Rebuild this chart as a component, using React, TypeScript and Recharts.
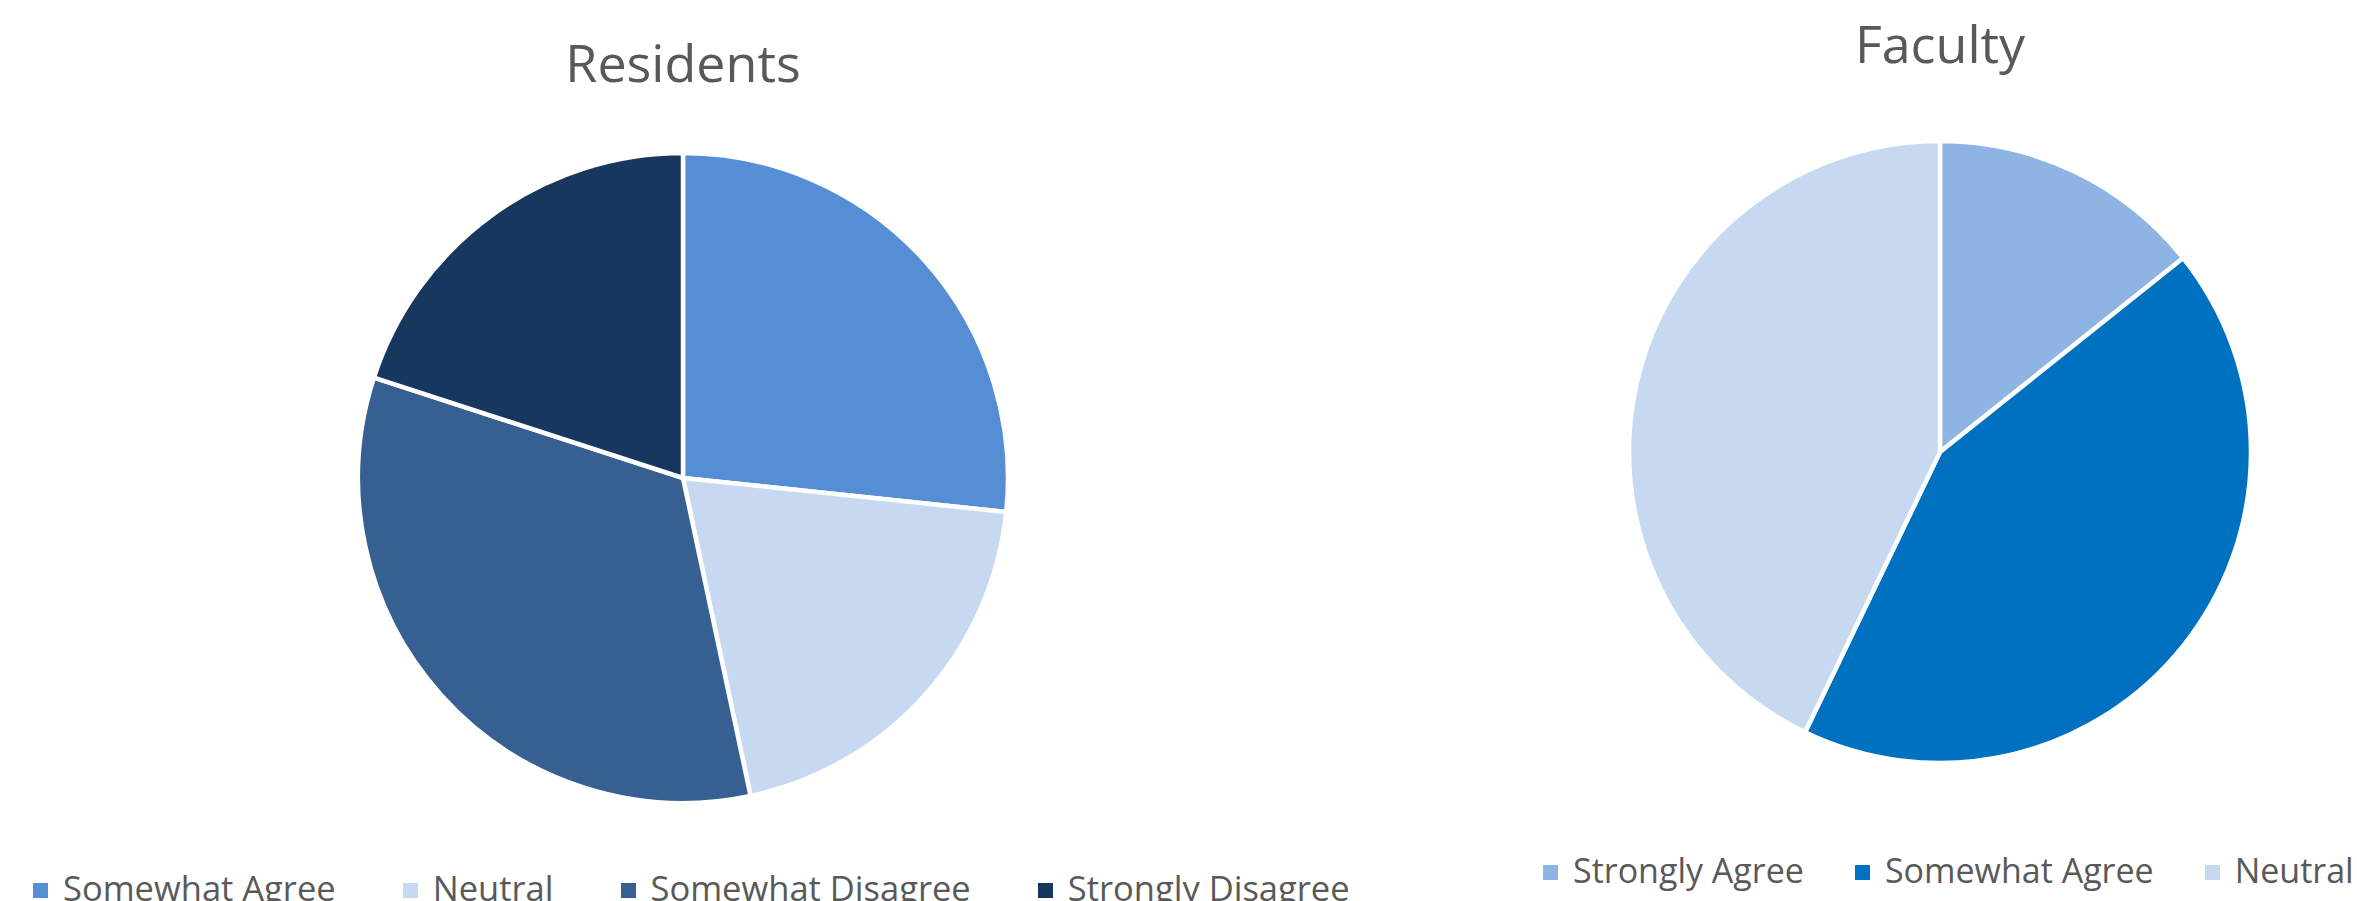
import { Cell, Legend, Pie, PieChart } from "recharts";

const residentLabels = ["Somewhat Agree", "Neutral", "Somewhat Disagree", "Strongly Disagree"];
const residentCounts = [4, 3, 5, 3];
const residentColors = ["#558ED5", "#C6D9F1", "#376092", "#17375E"];

const facultyLabels = ["Strongly Agree", "Somewhat Agree", "Neutral"];
const facultyCounts = [1, 3, 3];
const facultyColors = ["#8EB4E3", "#0070C0", "#C6D9F1"];

const FONT = "'Open Sans', 'Noto Sans', sans-serif";
const TEXT = "#595959";

type Slice = { name: string; value: number; color: string };

function toSlices(labels: string[], counts: number[], colors: string[]): Slice[] {
  return labels.map((name, i) => ({ name, value: counts[i], color: colors[i] }));
}

type LegendRowProps = { items: Slice[]; gap: number; fontSize: number };

function LegendRow({ items, gap, fontSize }: LegendRowProps) {
  return (
    <div
      style={{
        display: "flex",
        alignItems: "center",
        fontFamily: FONT,
        fontSize,
        lineHeight: `${fontSize}px`,
        color: TEXT,
      }}
    >
      {items.map((item) => (
        <div key={item.name} style={{ display: "flex", alignItems: "center", marginRight: gap }}>
          <span
            style={{
              display: "inline-block",
              width: 15,
              height: 15,
              background: item.color,
              marginRight: 15,
              marginTop: 4,
            }}
          />
          <span style={{ whiteSpace: "nowrap" }}>{item.name}</span>
        </div>
      ))}
    </div>
  );
}

type PieBlockProps = {
  title: string;
  slices: Slice[];
  left: number;
  width: number;
  cx: number;
  cy: number;
  radius: number;
  titleTop: number;
  legendLeft: number;
  legendTop: number;
  legendGap: number;
  legendFont: number;
};

function PieBlock(props: PieBlockProps) {
  const { title, slices, left, width, cx, cy, radius, titleTop, legendLeft, legendTop, legendGap, legendFont } = props;
  return (
    <div style={{ position: "absolute", left, top: 0, width, height: 901 }}>
      <div
        style={{
          position: "absolute",
          left: cx - 300,
          width: 600,
          top: titleTop,
          textAlign: "center",
          fontFamily: FONT,
          fontSize: 52,
          lineHeight: "52px",
          color: TEXT,
        }}
      >
        {title}
      </div>
      <PieChart width={width} height={901} margin={{ top: 0, right: 0, bottom: 0, left: 0 }}>
        <Pie
          data={slices}
          dataKey="value"
          nameKey="name"
          cx={cx}
          cy={cy}
          outerRadius={radius}
          startAngle={90}
          endAngle={-270}
          stroke="#ffffff"
          strokeWidth={4.5}
          isAnimationActive={false}
        >
          {slices.map((s) => (
            <Cell key={s.name} fill={s.color} />
          ))}
        </Pie>
        <Legend
          content={() => <LegendRow items={slices} gap={legendGap} fontSize={legendFont} />}
          wrapperStyle={{ position: "absolute", left: legendLeft, top: legendTop, width: "auto" }}
        />
      </PieChart>
    </div>
  );
}

export default function App() {
  const residents = toSlices(residentLabels, residentCounts, residentColors);
  const faculty = toSlices(facultyLabels, facultyCounts, facultyColors);
  return (
    <div
      style={{
        position: "fixed",
        left: 0,
        top: 0,
        width: 2357,
        height: 901,
        background: "#ffffff",
        overflow: "hidden",
      }}
    >
      <PieBlock
        title="Residents"
        slices={residents}
        left={0}
        width={1300}
        cx={683}
        cy={478}
        radius={325}
        titleTop={36}
        legendLeft={33}
        legendTop={871}
        legendGap={67}
        legendFont={34.5}
      />
      <PieBlock
        title="Faculty"
        slices={faculty}
        left={1300}
        width={1057}
        cx={640}
        cy={452}
        radius={311}
        titleTop={17}
        legendLeft={243}
        legendTop={853}
        legendGap={51}
        legendFont={34}
      />
    </div>
  );
}
